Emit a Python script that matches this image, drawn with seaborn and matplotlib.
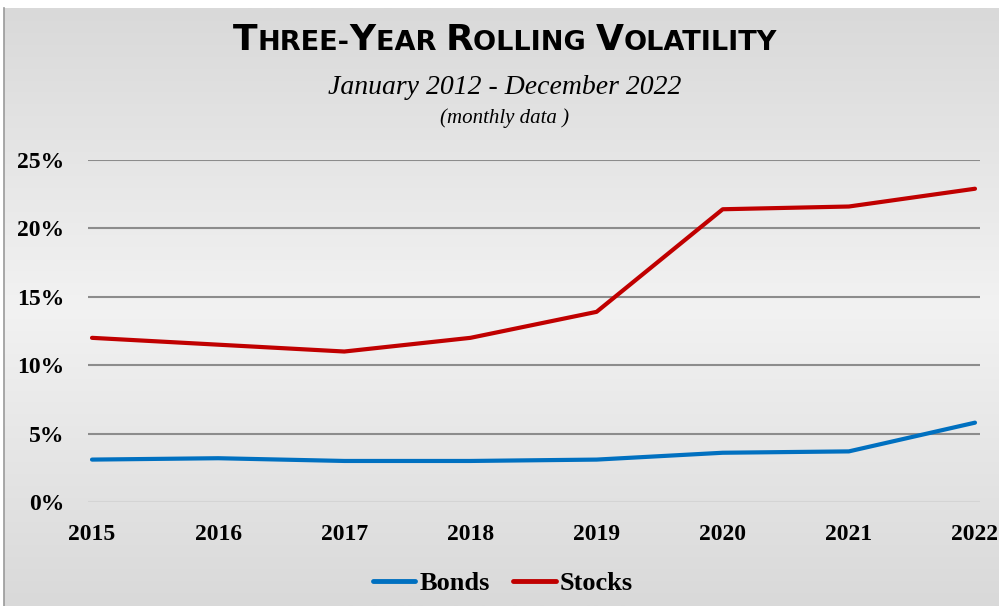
import numpy as np
import pandas as pd
import matplotlib
matplotlib.use("Agg")
import matplotlib.pyplot as plt
import seaborn as sns
from matplotlib.colors import LinearSegmentedColormap
from matplotlib.ticker import FuncFormatter

# ── DATA ────────────────────────────────────────────────────────────
years  = [2015, 2016, 2017, 2018, 2019, 2020, 2021, 2022]
bonds  = [3.1, 3.2, 3.0, 3.0, 3.1, 3.6, 3.7, 5.8]
stocks = [12.0, 11.5, 11.0, 12.0, 13.9, 21.4, 21.6, 22.9]
series_names = ["Bonds", "Stocks"]
y_ticks = [0, 5, 10, 15, 20, 25]

df = pd.DataFrame({
    "Year": years * 2,
    "Vol": bonds + stocks,
    "Series": [series_names[0]] * len(years) + [series_names[1]] * len(years),
})

sns.set_theme(style="white")
plt.rcParams["font.family"] = ["Liberation Serif", "DejaVu Serif"]
plt.rcParams["text.color"] = "black"

W, H = 999, 606
fig = plt.figure(figsize=(W / 100, H / 100), dpi=100)
fig.patch.set_facecolor("white")

# ── BACKGROUND GRADIENT PANEL ───────────────────────────────────────
bg = fig.add_axes([4 / W, 0, 1 - 4 / W, 598 / H], zorder=-2)
grad = np.linspace(0, 1, 256).reshape(-1, 1)
cmap = LinearSegmentedColormap.from_list("bg", ["#d9d9d9", "#f2f2f2", "#d9d9d9"])
bg.imshow(grad, aspect="auto", cmap=cmap, extent=[0, 1, 0, 1])
bg.set_xticks([]); bg.set_yticks([])
for side in ["right", "bottom", "top"]:
    bg.spines[side].set_visible(False)
bg.spines["left"].set_color("#9a9a9a")
bg.spines["left"].set_linewidth(1.2)

# ── MAIN AXES ───────────────────────────────────────────────────────
ax = fig.add_axes([88 / W, (H - 502) / H, (980 - 88) / W, (502 - 160) / H])
ax.set_facecolor("none")

sns.lineplot(data=df, x="Year", y="Vol", hue="Series",
             palette={"Bonds": "#0070C0", "Stocks": "#C00000"},
             linewidth=3.0, ax=ax, legend=True)

ax.set_xlim(2015 - 4 / 126, 2022 + 5 / 126)
ax.set_ylim(0, 25)
ax.set_xticks(years)
ax.set_yticks(y_ticks)
ax.yaxis.set_major_formatter(FuncFormatter(lambda v, _: f"{v:.0f}%"))
ax.set_xlabel("")
ax.set_ylabel("")
for s in ax.spines.values():
    s.set_visible(False)
ax.tick_params(axis="both", length=0, labelsize=17, labelcolor="black")
ax.tick_params(axis="y", pad=17)
ax.tick_params(axis="x", pad=16)
for lab in ax.get_xticklabels() + ax.get_yticklabels():
    lab.set_fontweight("bold")

ax.yaxis.grid(True, color="#8c8c8c", linewidth=1.5)
ax.get_ygridlines()[0].set_color("#d4d4d4")
ax.set_axisbelow(True)

leg = ax.legend(loc="upper center", bbox_to_anchor=(0.465, -0.135), ncol=2,
                frameon=False, prop={"weight": "bold", "size": 19},
                handlelength=1.6, handletextpad=0.15, columnspacing=0.9)
for h in leg.get_lines():
    h.set_linewidth(3.5)
for t in leg.get_texts():
    t.set_color("black")

# ── TITLE (small caps built from pieces) ────────────────────────────
pieces = [("T", 26), ("HREE-", 19.5), ("Y", 26), ("EAR ", 19.5), ("R", 26),
          ("OLLING ", 19.5), ("V", 26), ("OLATILITY", 19.5)]
renderer = fig.canvas.get_renderer()
texts = []
x = 0
for txt, size in pieces:
    t = fig.text(0, (H - 50) / H, txt, fontsize=size, fontweight="bold",
                 family="DejaVu Sans", va="baseline", ha="left", color="black")
    w = t.get_window_extent(renderer).width
    texts.append((t, x))
    x += w
start = (505 - x / 2)
for t, off in texts:
    t.set_x((start + off) / W)

fig.text(505 / W, (H - 87) / H, "January 2012 - December 2022", fontsize=20,
         style="italic", ha="center", va="center", color="black")
fig.text(505 / W, (H - 118) / H, "(monthly data )", fontsize=15,
         style="italic", ha="center", va="center", color="black")

fig.savefig("out.png", dpi=100)
